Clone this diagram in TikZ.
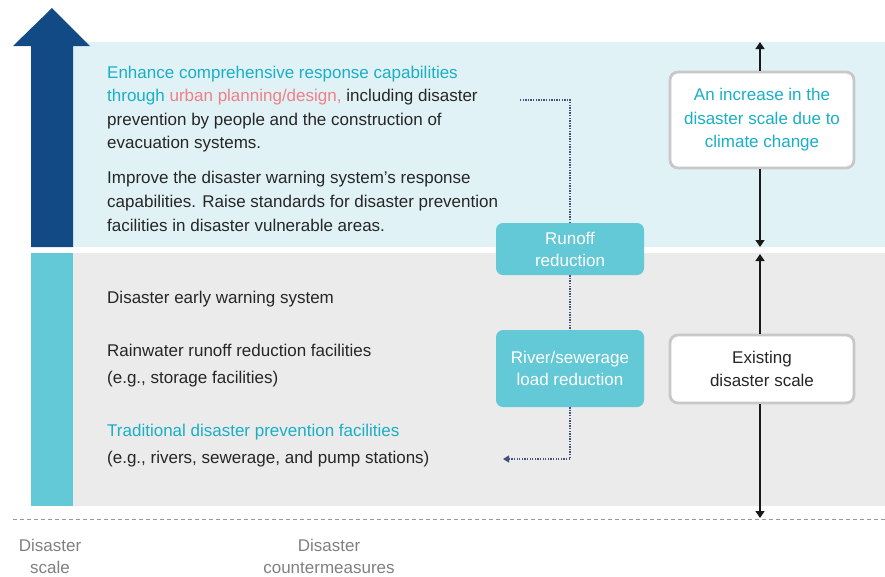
\documentclass[tikz,border=0pt]{standalone}
\usepackage{fontspec}
\setmainfont{Liberation Sans}
\usetikzlibrary{arrows.meta}
\definecolor{navy}{HTML}{124A86}
\definecolor{skyband}{HTML}{E1F2F6}
\definecolor{greyband}{HTML}{EBEBEB}
\definecolor{tealfill}{HTML}{63C9D7}
\definecolor{tealtext}{HTML}{19AFC6}
\definecolor{pinktext}{HTML}{F07F86}
\definecolor{ink}{HTML}{262626}
\definecolor{labelgrey}{HTML}{808080}
\definecolor{boxborder}{HTML}{C8C8C8}
\definecolor{dotline}{HTML}{44517A}
\begin{document}
\begin{tikzpicture}[x=1pt,y=-1pt,
  body/.style={anchor=base west, inner sep=0pt, text=ink, font=\fontsize{17}{20}\selectfont},
  axislabel/.style={inner sep=0pt, text=labelgrey, align=center, font=\fontsize{17}{22}\selectfont},
  measurebox/.style={draw=none, fill=tealfill, rounded corners=7pt, text=white, align=center,
    minimum width=148pt, inner sep=0pt, font=\fontsize{17}{22}\selectfont},
  scalebox/.style={draw=boxborder, line width=2.8pt, fill=white, rounded corners=8pt, align=center,
    minimum width=184pt, inner sep=0pt, font=\fontsize{17}{23.5}\selectfont},
  span/.style={line width=1.4pt, black!90, -{Triangle[width=9pt,length=7pt]}},
  flow/.style={dotline, line width=1.2pt, dash pattern=on 1.3pt off 1.3pt},
]
\useasboundingbox (0,0) rectangle (885,576);

% background bands
\fill[skyband] (73,42) rectangle (885,247);
\fill[greyband] (73,253) rectangle (885,506);
\fill[tealfill] (31,253) rectangle (73,506);
% rising arrow
\fill[navy] (31,247) -- (31,46) -- (13,46) -- (52,8) -- (90,46) -- (73,46) -- (73,247) -- cycle;

% baseline separator
\draw[labelgrey!80, line width=1pt, dash pattern=on 4pt off 3pt] (13,519) -- (885,519);

% upper countermeasures
\node[body] (e1) at (107,78) {\color{tealtext}Enhance comprehensive response capabilities};
\node[body] (e2) at (107,101.5) {{\color{tealtext}through} {\color{pinktext}urban planning/design,} including disaster};
\node[body] (e3) at (107,125) {prevention by people and the construction of};
\node[body] (e4) at (107,148.5) {evacuation systems.};
\node[body] (i1) at (107,183) {Improve the disaster warning system’s response};
\node[body] (i2) at (107,207) {capabilities. Raise standards for disaster prevention};
\node[body] (i3) at (107,231) {facilities in disaster vulnerable areas.};

% lower countermeasures
\node[body] (w1) at (107,303) {Disaster early warning system};
\node[body] (r1) at (107,356) {Rainwater runoff reduction facilities};
\node[body] (r2) at (107,383) {(e.g., storage facilities)};
\node[body] (t1) at (107,436) {\color{tealtext}Traditional disaster prevention facilities};
\node[body] (t2) at (107,463) {(e.g., rivers, sewerage, and pump stations)};

% measure boxes
\node[measurebox, minimum height=52pt] (runoff) at (570,249) {Runoff\\reduction};
\node[measurebox, minimum height=77pt] (river) at (570,368.5) {River/sewerage\\load reduction};

% dotted flow between measures
\coordinate (fstart) at (520,100);
\coordinate (fend) at (503,459);
\draw[flow] (fstart) -| (runoff.north);
\draw[flow] (runoff.south) -- (river.north);
\draw[flow, -{Triangle[width=7pt,length=6pt]}] (river.south) |- (fend);

% disaster scale boxes
\node[scalebox, minimum height=96pt, text=tealtext] (climate) at (762,120) {An increase in the\\disaster scale due to\\climate change};
\node[scalebox, minimum height=68pt, text=ink] (existing) at (762,369) {Existing\\disaster scale};

\coordinate (ctop) at (760,42);
\coordinate (cbot) at (760,247);
\coordinate (etop) at (760,254);
\coordinate (ebot) at (760,518);
\draw[span] (climate.north -| ctop) -- (ctop);
\draw[span] (climate.south -| cbot) -- (cbot);
\draw[span] (existing.north -| etop) -- (etop);
\draw[span] (existing.south -| ebot) -- (ebot);

% axis labels
\node[axislabel] (lscale) at (50,556) {Disaster\\scale};
\node[axislabel] (lmeasure) at (329,556) {Disaster\\countermeasures};
\end{tikzpicture}
\end{document}
